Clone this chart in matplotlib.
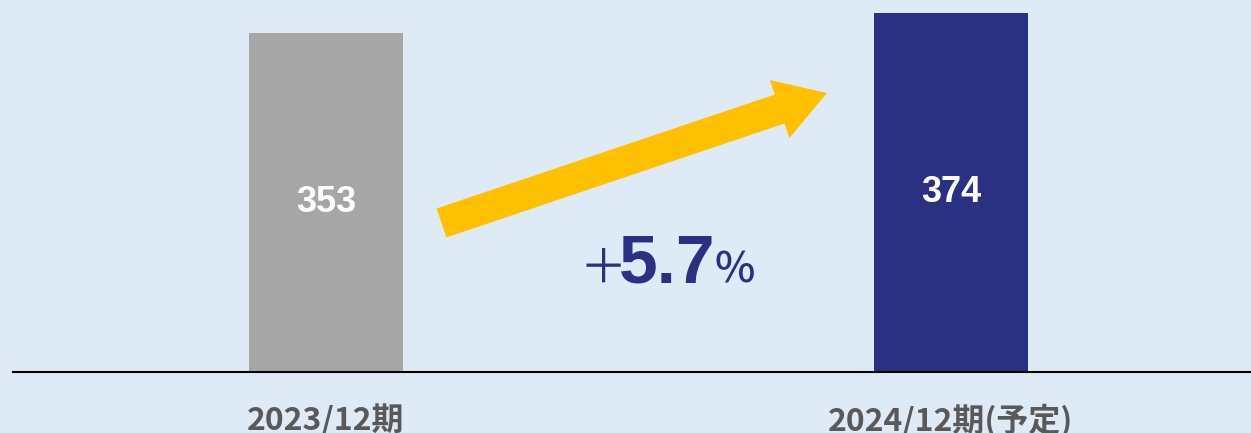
import matplotlib
matplotlib.use('Agg')
from matplotlib import pyplot as plt

categories = ['2023/12期', '2024/12期(予定)']
values = [353, 374]
growth = '5.7'

bg = '#DEEBF6'
bar_colors = ['#A6A6A6', '#2A3082']
navy = '#2A3082'
yellow = '#FFC000'

plt.rcParams['font.family'] = ['Noto Sans CJK JP', 'DejaVu Sans']

fig = plt.figure(figsize=(12.51, 4.33), dpi=100, facecolor=bg)
ax = fig.add_axes([13 / 1251, 61 / 433, 1 - 13 / 1251, 372 / 433])
ax.set_facecolor(bg)

x = [0, 1]
bars = ax.bar(x, values, width=0.246, color=bar_colors)
ax.bar_label(bars, labels=[str(v) for v in values], label_type='center',
             color='white', fontsize=26, fontweight='bold',
             family=['Liberation Sans', 'DejaVu Sans'])

ax.set_xlim(-0.5008, 1.48)
ax.set_ylim(0, 387.4)

for s in ['top', 'right', 'left']:
    ax.spines[s].set_visible(False)
ax.spines['bottom'].set_linewidth(1.5)
ax.spines['bottom'].set_color('black')
ax.set_yticks([])
ax.set_xticks(x)
ax.set_xticklabels(categories, fontsize=23, fontweight='bold', color='#595959')
ax.tick_params(axis='x', length=0, pad=23)

# growth arrow
ax.annotate('', xy=(0.8016, 290.5), xytext=(0.1848, 155.2),
            arrowprops=dict(arrowstyle='simple,head_length=36,head_width=44,tail_width=22',
                            mutation_scale=1, color=yellow, shrinkA=0, shrinkB=0, lw=0))

ax.text(0.5464, 92.7, growth, ha='center', va='baseline', color=navy,
        fontsize=50, fontweight='bold', family=['Liberation Sans', 'DejaVu Sans'])
ax.text(0.4808, 92.7, '＋', ha='right', va='baseline', color=navy, fontsize=34)
ax.text(0.6211, 92.7, '%', ha='left', va='baseline', color=navy, fontsize=31,
        fontweight='medium')

fig.savefig('out.png', dpi=100, facecolor=bg)
